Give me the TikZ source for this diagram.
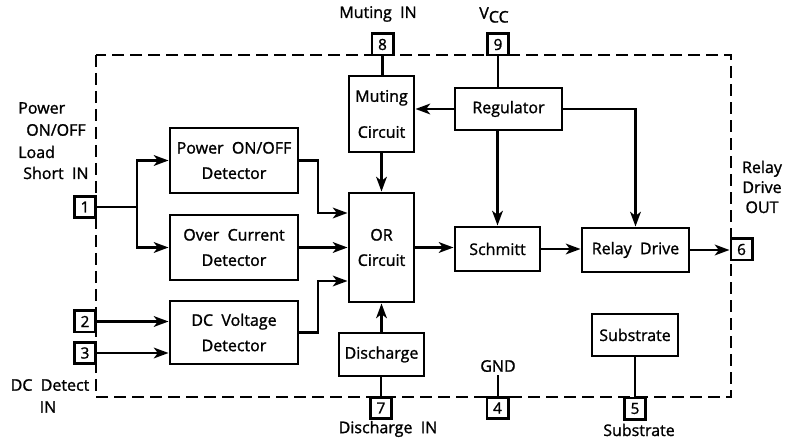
\documentclass[tikz,border=0pt]{standalone}
\usepackage{fontspec}
\setmainfont{Open Sans}[RawFeature={embolden=1.3}]
\usetikzlibrary{arrows.meta}
\begin{document}
\begin{tikzpicture}[x=0.75pt,y=-0.75pt,
  every node/.style={font=\fontsize{12}{19}\selectfont, inner sep=0pt},
  blk/.style={draw, line width=2.2pt, align=center},
  pinbox/.style={draw, fill=white, line width=2pt, minimum width=16pt, minimum height=16pt, font=\fontsize{11.5}{13}\selectfont},
  wire/.style={line width=2.2pt},
  arr/.style={wire, -{Stealth[length=11pt,width=8pt,inset=3pt]}},
  lbl/.style={align=center, font=\fontsize{12}{16.5}\selectfont}]
\useasboundingbox (0,0) rectangle (785,441);
% package outline
\draw[line width=2.2pt, dash pattern=on 9pt off 4.5pt] (96,55) rectangle (731,397);
% blocks
\node[blk, minimum width=65*0.75pt, minimum height=76*0.75pt] (mut) at (381.5,114) {Muting\\[8pt]Circuit};
\node[blk, minimum width=107*0.75pt, minimum height=42*0.75pt] (reg) at (508.5,109) {Regulator};
\node[blk, minimum width=128*0.75pt, minimum height=65*0.75pt] (pdet) at (234,160.5) {Power\ \ ON/OFF\\Detector};
\node[blk, minimum width=128*0.75pt, minimum height=65*0.75pt] (odet) at (234,247.5) {Over\ \ Current\\Detector};
\node[blk, minimum width=128*0.75pt, minimum height=63*0.75pt] (dcdet) at (234,332.5) {DC\ \ Voltage\\Detector};
\node[blk, minimum width=65*0.75pt, minimum height=109*0.75pt] (orc) at (381.5,247.5) {OR\\Circuit};
\node[blk, minimum width=85*0.75pt, minimum height=43*0.75pt] (dis) at (381.5,354.5) {Discharge};
\node[blk, minimum width=85*0.75pt, minimum height=44*0.75pt] (sch) at (497.5,249) {Schmitt};
\node[blk, minimum width=107*0.75pt, minimum height=44*0.75pt] (rd) at (635.5,250) {Relay\ \ Drive};
\node[blk, minimum width=86*0.75pt, minimum height=42*0.75pt] (sub) at (635,335) {Substrate};
% pins
\node[pinbox] (p8) at (382.5,44.5) {8};
\node[pinbox] (p9) at (498,44.5) {9};
\node[pinbox] (p1) at (85,207) {1};
\node[pinbox] (p2) at (85,321.5) {2};
\node[pinbox] (p3) at (85,353) {3};
\node[pinbox] (p7) at (381,408) {7};
\node[pinbox] (p4) at (497.5,408) {4};
\node[pinbox] (p5) at (635,408.5) {5};
\node[pinbox] (p6) at (741.5,249.5) {6};
% labels
\node[lbl] (lmut) at (378,14) {Muting\ \ IN};
\node[lbl] (lvcc) at (494,15) {V\raisebox{-0.45ex}{CC}};
\node[lbl, anchor=west] (la) at (18,108) {Power};
\node[lbl, anchor=west] (lb) at (26,130) {ON/OFF};
\node[lbl, anchor=west] (lc) at (18,152) {Load};
\node[lbl, anchor=west] (ld) at (23,173) {Short\ \ IN};
\node[lbl, font=\fontsize{12}{15}\selectfont] (lrel) at (762,187) {Relay\\Drive\\OUT};
\node[lbl] (ldc1) at (50,385) {DC\ \ Detect};
\node[lbl] (ldc2) at (48,407) {IN};
\node[lbl] (ldis) at (388,429) {Discharge\ \ IN};
\node[lbl] (lsub) at (639,430) {Substrate};
\node[lbl] (lgnd) at (498,366) {GND};
% connectors
\coordinate (j1) at (137,207);
\draw[wire] (p1.east) -- (j1);
\draw[arr] (j1) |- (pdet.west);
\draw[arr] (j1) |- (odet.west);
\coordinate (k1) at (318,213);
\draw[arr] (pdet.east) -| (k1) -- (k1 -| orc.west);
\draw[arr] (odet.east) -- (orc.west);
\coordinate (k2) at (318,281);
\draw[arr] (dcdet.east) -| (k2) -- (k2 -| orc.west);
\draw[arr] (p2.east) -- (p2 -| dcdet.west);
\draw[arr] (p3.east) -- (p3 -| dcdet.west);
\draw[arr] (dis.north) -- (orc.south);
\draw[wire] (p7.north) -- (p7 |- dis.south);
\draw[wire] (p8.south) -- (p8 |- mut.north);
\draw[arr] (mut.south) -- (orc.north);
\draw[arr] (reg.west) -- (reg.west -| mut.east);
\draw[wire] (p9.south) -- (p9 |- reg.north);
\draw[arr] (sch.north |- reg.south) -- (sch.north);
\draw[arr] (reg.east) -| (rd.north);
\draw[arr] (orc.east) -- (orc.east -| sch.west);
\draw[arr] (sch.east) -- (sch.east -| rd.west);
\draw[arr] (rd.east) -- (rd.east -| p6.west);
\draw[wire] (sub.south) -- (sub.south |- p5.north);
\draw[wire] (lgnd.south) ++(0,3) coordinate (g1) (g1) -- (g1 |- p4.north);
\end{tikzpicture}
\end{document}
